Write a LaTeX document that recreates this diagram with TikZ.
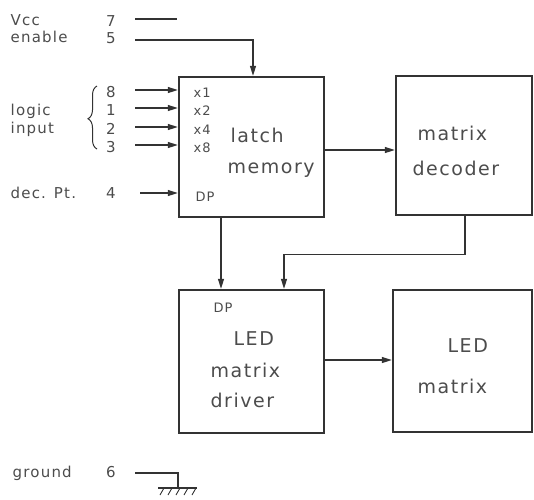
\documentclass[tikz,border=0pt]{standalone}
\usepackage{fontspec}
\setmainfont[LetterSpace=8]{DejaVu Sans}
\usetikzlibrary{arrows.meta,decorations.pathreplacing}

\tikzset{
  blk/.style={draw=black!80, line width=2.4pt, inner sep=0pt},
  txt/.style={anchor=base west, inner sep=0pt, text=black!70, font=\fontsize{19}{22}\selectfont},
  lbl/.style={anchor=base west, inner sep=0pt, text=black!70, font=\fontsize{15}{18}\selectfont},
  pin/.style={anchor=base, inner sep=0pt, text=black!70, font=\fontsize{15}{18}\selectfont},
  sub/.style={anchor=base west, inner sep=0pt, text=black!70, font=\fontsize{13}{16}\selectfont},
}

\begin{document}
\begin{tikzpicture}[x=1pt, y=-1pt, >={Triangle[length=10pt,width=6pt]}, line width=1.3pt, draw=black!80]
    \useasboundingbox (0,0) rectangle (534,499);

    % blocks
    \node[blk, minimum width=145pt, minimum height=140pt] (latch) at (251.5,147) {};
    \node[blk, minimum width=136pt, minimum height=139pt] (decoder) at (464,145.5) {};
    \node[blk, minimum width=145pt, minimum height=143pt] (driver) at (251.5,361.5) {};
    \node[blk, minimum width=139pt, minimum height=142pt] (ledm) at (462.5,361) {};

    \node[txt] (tlatch) at (230,142) {latch};
    \node[txt] (tmemory) at (227,173) {memory};
    \node[txt] (tmatrix) at (417,140) {matrix};
    \node[txt] (tdecoder) at (412,175) {decoder};
    \node[txt] (tled) at (233,345) {LED};
    \node[txt] (tmatrixb) at (210,377) {matrix};
    \node[txt] (tdriver) at (210,407) {driver};
    \node[txt] (tledb) at (447,352) {LED};
    \node[txt] (tmatrixc) at (417,393) {matrix};
    \node[sub] (dpa) at (195,201) {DP};
    \node[sub] (dpb) at (213,312) {DP};

    % pins on the left
    \node[lbl] (vcc) at (10,25) {Vcc};
    \node[lbl] (enable) at (10,42) {enable};
    \node[lbl] (logic) at (10,115) {logic};
    \node[lbl] (input) at (10,133) {input};
    \node[lbl] (decpt) at (10,198) {dec. Pt.};
    \node[lbl] (ground) at (12,477) {ground};

    \node[pin] (n7) at (111,26) {7};
    \node[pin] (n5) at (111,43) {5};
    \node[pin] (n4) at (111,198) {4};
    \node[pin] (n6) at (111,477) {6};

    \coordinate (v0) at (135,19);
    \coordinate (v1) at (177,19);
    \draw (v0) -- (v1);

    \coordinate (e0) at (135,40);
    \draw[->] (e0) -| ([xshift=1.5pt]latch.north);

    \foreach \n/\y/\w in {8/90/1,1/108/2,2/127/4,3/145/8}{
        \node[pin] (n\n) at (111,\y+7) {\n};
        \coordinate (s\n) at (135,\y);
        \draw[->] (s\n) -- (s\n -| latch.west);
        \node[sub] (x\w) at (193,\y+7) {x\w};
    }
    \draw[line width=1pt, decorate, decoration={brace, amplitude=9pt, aspect=0.48}] (97,149) -- (97,86);

    \coordinate (d0) at (140,193);
    \draw[->] (d0) -- (d0 -| latch.west);

    % connections
    \draw[->] (latch.east |- 0,150) -- (decoder.west |- 0,150);
    \draw[->] ([xshift=-30.5pt]latch.south) -- ([xshift=-30.5pt]driver.north);
    \draw[->] ([xshift=1pt]decoder.south) -- ++(0,38) -| ([xshift=32.5pt]driver.north);
    \draw[->] (driver.east |- 0,360) -- (ledm.west |- 0,360);

    % ground
    \coordinate (g0) at (135,473);
    \coordinate (g1) at (178,488);
    \draw (g0) -| (g1);
    \draw (158,488) -- (197,488);
    \foreach \x in {164,172,180,188,196}
        \draw[line width=0.9pt] (\x,488) -- (\x-4,495);
\end{tikzpicture}
\end{document}
